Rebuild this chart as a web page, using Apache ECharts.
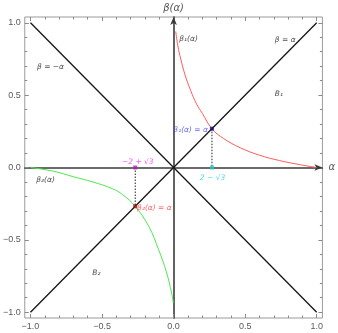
<!DOCTYPE html>
<html>
<head>
<meta charset="utf-8">
<script src="https://cdn.jsdelivr.net/npm/echarts@6/dist/echarts.min.js"></script>
<style>html,body{margin:0;padding:0;background:#fff;}#c{width:338px;height:333px;}</style>
</head>
<body>
<div id="c"></div>
<script>
// ---- data ----
var majorTicks = [-1, -0.5, 0, 0.5, 1];
var tickLabels = ['\u22121.0', '\u22120.5', '0.0', '0.5', '1.0'];
var minorTicks = [-0.9, -0.8, -0.7, -0.6, -0.4, -0.3, -0.2, -0.1, 0.1, 0.2, 0.3, 0.4, 0.6, 0.7, 0.8, 0.9];

var diagAlpha = [-1, 1];
var diagBetaPlus = [-1, 1];    // beta = alpha
var diagBetaMinus = [1, -1];   // beta = -alpha

var beta1Alpha = [0.015, 0.03, 0.05, 0.08, 0.12, 0.16, 0.20, 0.268, 0.35, 0.467, 0.60, 0.74, 0.88, 1.0];
var beta1Value = [0.94, 0.84, 0.75, 0.64, 0.53, 0.44, 0.375, 0.268, 0.20, 0.136, 0.085, 0.048, 0.02, 0.0];

var beta2Alpha = [-1.0, -0.838, -0.70, -0.564, -0.426, -0.357, -0.268, -0.174, -0.105, -0.048, -0.014, -0.002];
var beta2Value = [0.0, -0.026, -0.064, -0.10, -0.147, -0.187, -0.268, -0.406, -0.567, -0.729, -0.867, -0.936];

var fixAlpha1 = 0.268;   // 2 - sqrt(3)
var fixAlpha2 = -0.268;  // -2 + sqrt(3)

function zip(a, b) { return a.map(function (v, i) { return [v, b[i]]; }); }

var chart = echarts.init(document.getElementById('c'), null, {renderer: 'canvas'});

var RANGE = 1.04;
function fmt(v) {
  for (var i = 0; i < majorTicks.length; i++) if (Math.abs(majorTicks[i] - v) < 1e-9) return tickLabels[i];
  return '';
}
function frameAxis(pos, values, len, withLabels) {
  return {
    type: 'value', min: -RANGE, max: RANGE, position: pos,
    axisLine: {show: false, onZero: false},
    splitLine: {show: false},
    axisTick: {show: true, inside: true, length: len, customValues: values, lineStyle: {color: '#8a8a8a', width: 1}},
    axisLabel: withLabels ? {show: true, customValues: majorTicks, formatter: fmt, color: '#5a5a5a', fontSize: 9, fontFamily: 'Liberation Sans', margin: 4} : {show: false}
  };
}
function originAxis(name, isX) {
  return {
    type: 'value', min: -RANGE, max: RANGE, position: isX ? 'bottom' : 'left',
    axisLine: {show: true, onZero: true, symbol: ['none', 'arrow'], symbolSize: [5, 8], lineStyle: {color: '#3a3a3a', width: 1.6}},
    axisTick: {show: false}, axisLabel: {show: false}, splitLine: {show: false},
    name: name, nameLocation: 'end', nameGap: isX ? 6 : 4,
    nameTextStyle: {color: '#555', fontSize: 10, fontStyle: 'italic', fontFamily: 'DejaVu Sans'}
  };
}

var xAxes = [
  originAxis('\u03b1', true),
  frameAxis('bottom', majorTicks, 4, true),
  frameAxis('bottom', minorTicks, 2.5, false),
  frameAxis('top', majorTicks, 4, false),
  frameAxis('top', minorTicks, 2.5, false)
];
var yAxes = [
  originAxis('\u03b2(\u03b1)', false),
  frameAxis('left', majorTicks, 4, true),
  frameAxis('left', minorTicks, 2.5, false),
  frameAxis('right', majorTicks, 4, false),
  frameAxis('right', minorTicks, 2.5, false)
];

function lab(x, y, text, color, align) {
  return {value: [x, y], label: {show: true, formatter: text, color: color, align: align || 'center', verticalAlign: 'middle'}};
}

var labels = [
  lab(-0.86, 0.695, '\u03b2 = \u2212\u03b1', '#222'),
  lab(0.78, 0.88, '\u03b2 = \u03b1', '#222'),
  lab(0.105, 0.885, '\u03b2\u2081(\u03b1)', '#222'),
  lab(0.736, 0.51, 'B\u2081', '#222'),
  lab(0.24, 0.26, '\u03b2\u2081(\u03b1) = \u03b1', '#4646e6', 'right'),
  lab(0.272, -0.072, '2 \u2212 \u221a3', '#22d0d8'),
  lab(-0.25, 0.04, '\u22122 + \u221a3', '#e632e6'),
  lab(-0.895, -0.086, '\u03b2\u2082(\u03b1)', '#222'),
  lab(-0.255, -0.28, '\u03b2\u2082(\u03b1) = \u03b1', '#ff3c3c', 'left'),
  lab(-0.54, -0.73, 'B\u2082', '#222')
];

var option = {
  animation: false,
  backgroundColor: '#fff',
  grid: {left: 22, right: 15, top: 17, bottom: 15, show: true, borderColor: '#9a9a9a', borderWidth: 1, backgroundColor: 'transparent'},
  xAxis: xAxes,
  yAxis: yAxes,
  series: [
    {type: 'line', data: zip(diagAlpha, diagBetaPlus), symbol: 'none', lineStyle: {color: '#151515', width: 1.3}, z: 2},
    {type: 'line', data: zip(diagAlpha, diagBetaMinus), symbol: 'none', lineStyle: {color: '#151515', width: 1.3}, z: 2},
    {type: 'line', data: zip(beta1Alpha, beta1Value), symbol: 'none', smooth: 0.4, lineStyle: {color: '#ff5a5a', width: 1}, z: 3},
    {type: 'line', data: zip(beta2Alpha, beta2Value), symbol: 'none', smooth: 0.4, lineStyle: {color: '#4ee84e', width: 1}, z: 3},
    {type: 'line', data: [[fixAlpha1, fixAlpha1], [fixAlpha1, 0]], symbol: 'none', lineStyle: {color: '#222', width: 1, type: [1.5, 1.5]}, z: 4},
    {type: 'line', data: [[fixAlpha2, 0], [fixAlpha2, fixAlpha2]], symbol: 'none', lineStyle: {color: '#222', width: 1, type: [1.5, 1.5]}, z: 4},
    {type: 'scatter', symbol: 'rect', symbolSize: 4, z: 6, data: [
      {value: [fixAlpha1, fixAlpha1], itemStyle: {color: '#10107a'}},
      {value: [fixAlpha1, 0], itemStyle: {color: '#22c8c8'}},
      {value: [fixAlpha2, 0], itemStyle: {color: '#b41eb4'}},
      {value: [fixAlpha2, fixAlpha2], itemStyle: {color: '#9a1010'}}
    ]},
    {type: 'scatter', symbolSize: 0, z: 7, silent: true,
     label: {show: true, fontSize: 7.5, fontStyle: 'italic', fontFamily: 'DejaVu Sans'},
     data: labels}
  ]
};
chart.setOption(option);
</script>
</body>
</html>
